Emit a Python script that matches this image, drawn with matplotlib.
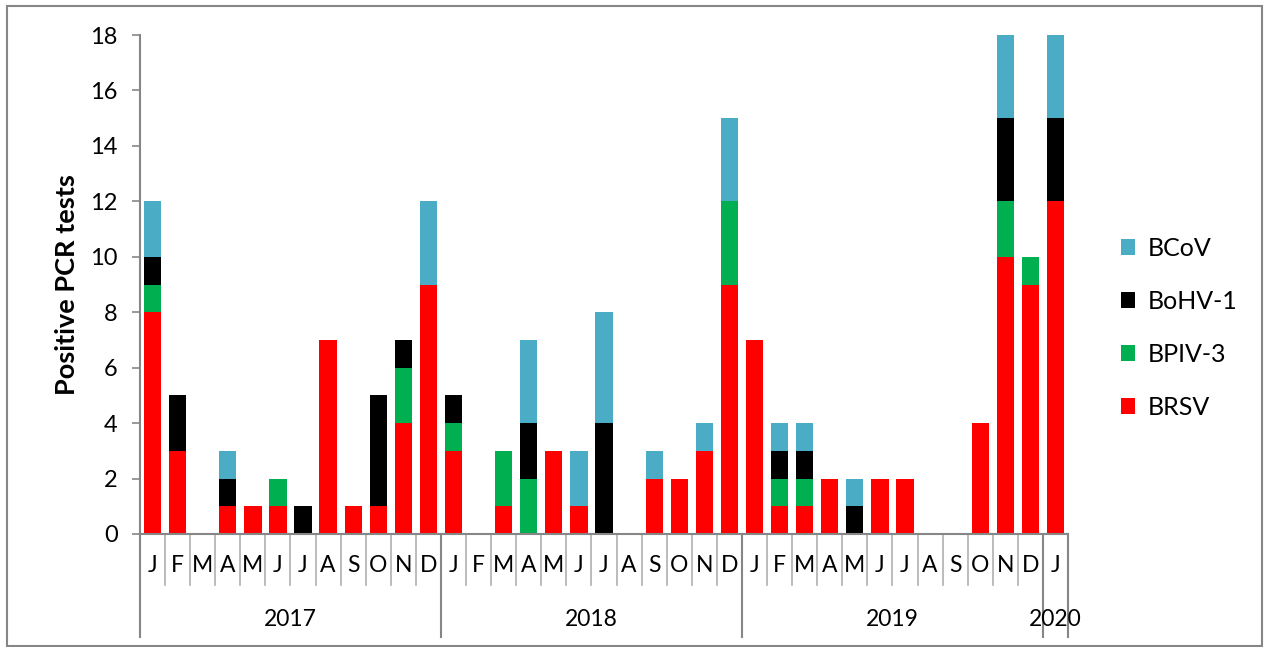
import matplotlib
matplotlib.use("Agg")
import matplotlib.pyplot as plt
from matplotlib.patches import Rectangle
from matplotlib.lines import Line2D
import numpy as np

plt.rcParams['font.family'] = ['Lato', 'DejaVu Sans']

months = ["J","F","M","A","M","J","J","A","S","O","N","D"] * 3 + ["J"]
years = ["2017", "2018", "2019", "2020"]
year_lengths = [12, 12, 12, 1]

brsv  = [8,3,0,1,1,1,0,7,1,1,4,9,  3,0,1,0,3,1,0,0,2,2,3,9,  7,1,1,2,0,2,2,0,0,4,10,9, 12]
bpiv3 = [1,0,0,0,0,1,0,0,0,0,2,0,  1,0,2,2,0,0,0,0,0,0,0,3,  0,1,1,0,0,0,0,0,0,0,2,1,  0]
bohv1 = [1,2,0,1,0,0,1,0,0,4,1,0,  1,0,0,2,0,0,4,0,0,0,0,0,  0,1,1,0,1,0,0,0,0,0,3,0,  3]
bcov  = [2,0,0,1,0,0,0,0,0,0,0,3,  0,0,0,3,0,2,4,0,1,0,1,3,  0,1,1,0,1,0,0,0,0,0,3,0,  3]

series = [("BRSV", brsv, "#FF0000"), ("BPIV-3", bpiv3, "#00B050"),
          ("BoHV-1", bohv1, "#000000"), ("BCoV", bcov, "#4BACC6")]

W, H = 1265, 647
fig = plt.figure(figsize=(W/100, H/100), dpi=100)
ax = fig.add_axes([140/W, 1-534/H, 928/W, 499/H])

x = np.arange(len(months))
bottom = np.zeros(len(months))
handles = []
for name, vals, col in series:
    v = np.array(vals, dtype=float)
    b = ax.bar(x, v, 0.69, bottom=bottom, color=col, label=name, linewidth=0)
    bottom += v
    handles.append(b)

gray = "#868686"
ax.set_xlim(-0.5, len(months) - 0.5)
ax.set_ylim(0, 18)
ax.set_yticks(range(0, 19, 2))
ax.tick_params(axis='y', direction='out', length=6, width=1.2, color=gray, labelsize=17, pad=10)
ax.set_xticks([])
for s in ["top", "right"]:
    ax.spines[s].set_visible(False)
for s in ["left", "bottom"]:
    ax.spines[s].set_color(gray)
    ax.spines[s].set_linewidth(1.5)
ax.set_ylabel("Positive PCR tests", fontsize=19.5, fontweight='bold', labelpad=8)

trans = ax.get_xaxis_transform()
def ypx(py):
    return (534 - py) / 499.0

for i, m in enumerate(months):
    ax.text(i, ypx(566), m, transform=trans, ha='center', va='center', fontsize=16.5, clip_on=False)
for i in range(len(months) + 1):
    ax.add_line(Line2D([i - 0.5, i - 0.5], [0, ypx(585)], transform=trans, color="#b0b0b0", lw=1.2, clip_on=False))

start = 0
for yname, n in zip(years, year_lengths):
    ax.text(start + n / 2 - 0.5, ypx(620), yname, transform=trans, ha='center', va='center', fontsize=16.5, clip_on=False)
    ax.add_line(Line2D([start - 0.5, start - 0.5], [0, ypx(637)], transform=trans, color=gray, lw=1.5, clip_on=False))
    start += n
ax.add_line(Line2D([start - 0.5, start - 0.5], [0, ypx(637)], transform=trans, color=gray, lw=1.5, clip_on=False))

leg = fig.legend(handles[::-1], [s[0] for s in series][::-1], loc='center left',
                 bbox_to_anchor=(1098/W, 1-328/H), frameon=False, fontsize=18,
                 handlelength=0.58, handleheight=0.58, labelspacing=1.2, handletextpad=0.5)

fig.add_artist(Rectangle((7/W, 1-646/H), (1262-7)/W, (646-6)/H, transform=fig.transFigure,
                         fill=False, edgecolor=gray, lw=1.5))

fig.savefig("out.png", dpi=100)
